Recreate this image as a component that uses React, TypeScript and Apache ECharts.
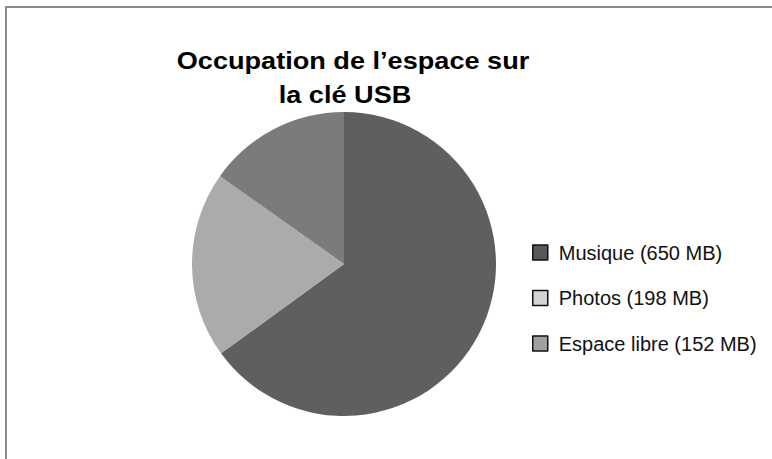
import React, { useEffect, useRef } from "react";
import * as echarts from "echarts";

const categories = ["Musique (650 MB)", "Photos (198 MB)", "Espace libre (152 MB)"];
const values = [650, 198, 152];
const sliceColors = ["#5f5f5f", "#ababab", "#7b7b7b"];
const legendColors = ["#585858", "#d4d4d4", "#a0a0a0"];
const titleLines = ["Occupation de l’espace sur", "la clé USB"];

export default function App() {
  const ref = useRef<HTMLDivElement>(null);
  useEffect(() => {
    if (!ref.current) return;
    const chart = echarts.init(ref.current, undefined, { renderer: "svg" });
    const font = "Liberation Sans";
    const titleX = [353, 345];
    const titleY = [61, 95];
    chart.setOption({
      animation: false,
      backgroundColor: "#ffffff",
      legend: {
        orient: "vertical",
        left: 532,
        top: 242.5,
        padding: 0,
        itemWidth: 15,
        itemHeight: 15,
        itemGap: 25.5,
        icon: "rect",
        selectedMode: false,
        textStyle: {
          fontFamily: font,
          fontSize: 20,
          lineHeight: 20,
          color: "#111111",
          padding: [0, 0, 0, 6],
        },
        data: categories.map((c, i) => ({
          name: c,
          itemStyle: { color: legendColors[i], borderColor: "#111111", borderWidth: 1.5 },
        })),
      },
      graphic: [
        {
          type: "rect",
          shape: { x: 6, y: 7, width: 900, height: 600 },
          style: { fill: "none", stroke: "#8a8a8a", lineWidth: 2 },
          silent: true,
        },
        ...titleLines.map((t, i) => ({
          type: "text",
          x: titleX[i],
          y: titleY[i],
          scaleX: 1.13,
          silent: true,
          style: {
            text: t,
            x: 0,
            y: 0,
            fill: "#000000",
            fontFamily: font,
            fontWeight: "bold",
            fontSize: 24,
            align: "center",
            verticalAlign: "middle",
          },
        })),
      ],
      series: [
        {
          type: "pie",
          center: [344, 264],
          radius: 152,
          startAngle: 90,
          clockwise: true,
          label: { show: false },
          labelLine: { show: false },
          emphasis: { disabled: true },
          data: categories.map((c, i) => ({
            name: c,
            value: values[i],
            itemStyle: { color: sliceColors[i] },
          })),
        },
      ],
    });
    return () => chart.dispose();
  }, []);
  return (
    <div
      ref={ref}
      style={{ position: "fixed", left: 0, top: 0, width: 772, height: 459 }}
    />
  );
}
